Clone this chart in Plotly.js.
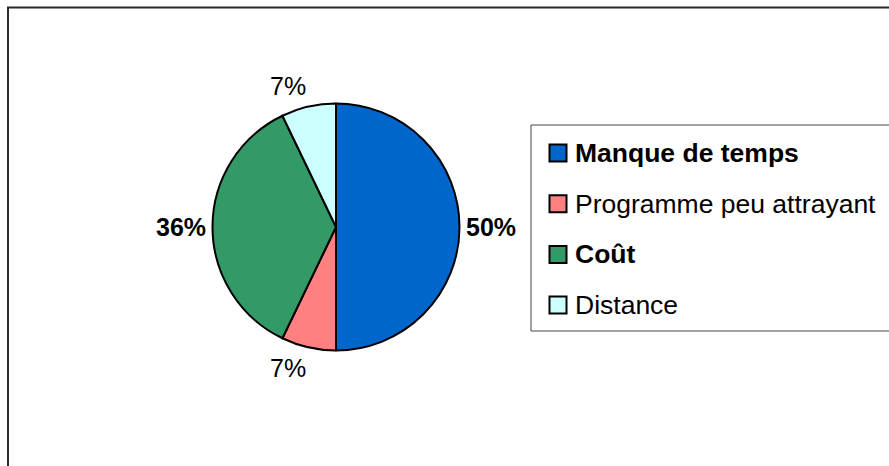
<!DOCTYPE html>
<html>
<head>
<meta charset="utf-8">
<script src="https://cdn.plot.ly/plotly-3.0.1.min.js"></script>
<style>
  html, body { margin: 0; padding: 0; background: #fff; }
  #chart { width: 889px; height: 466px; }
</style>
</head>
<body>
<div id="chart"></div>
<script>
// ---- data ----
const categories = ['Manque de temps', 'Programme peu attrayant', 'Coût', 'Distance'];
const counts = [7, 1, 5, 1];

// ---- styling ----
const colors = ['#0066CC', '#FF8080', '#339966', '#CCFFFF'];
const boldFlags = [true, false, true, false];
const FONT = 'Liberation Sans, Arial, Helvetica, sans-serif';
const W = 889, H = 466;
const cx = 336, cy = 227, R = 123.5;

const wrapBold = (s, b) => b ? '<b>' + s + '</b>' : s;

const trace = {
  type: 'pie',
  labels: categories,
  values: counts,
  sort: false,
  direction: 'clockwise',
  rotation: 0,
  marker: { colors: colors, line: { color: '#000', width: 2 } },
  textinfo: 'none',
  showlegend: false,
  hoverinfo: 'label+percent',
  domain: {
    x: [(cx - R) / W, (cx + R) / W],
    y: [(H - cy - R) / H, (H - cy + R) / H]
  }
};

// percentage labels placed just outside each slice (angles derived from the data)
const total = counts.reduce((a, b) => a + b, 0);
const annotations = [];
let cum = 0;
const gap = 6;
counts.forEach((v, i) => {
  const mid = (cum + v / 2) / total * 2 * Math.PI;
  cum += v;
  const s = Math.sin(mid), c = Math.cos(mid);
  const px = cx + (R + gap) * s, py = cy - (R + gap) * c;
  annotations.push({
    xref: 'paper', yref: 'paper', x: px / W, y: 1 - py / H,
    xanchor: s > 0.1 ? 'left' : (s < -0.1 ? 'right' : 'center'),
    yanchor: c > 0.1 ? 'bottom' : (c < -0.1 ? 'top' : 'middle'),
    showarrow: false, borderpad: 0,
    text: wrapBold(Math.round(v / total * 100) + '%', boldFlags[i]),
    font: { family: FONT, size: 25, color: '#000' }
  });
});

// legend (box, swatches, labels) built from the category arrays
const legX0 = 531, legY0 = 125, legY1 = 331;
const itemY0 = 153, itemStep = 50.7, sw = 17, swX = 549.5, txtX = 572.5;
const shapes = [
  { type: 'rect', xref: 'paper', yref: 'paper',
    x0: 8 / W, x1: 1.2, y0: -0.2, y1: 1 - 7.5 / H,
    line: { color: '#2a2a2a', width: 2 }, fillcolor: 'rgba(0,0,0,0)' },
  { type: 'rect', xref: 'paper', yref: 'paper',
    x0: legX0 / W, x1: 1.2, y0: 1 - legY1 / H, y1: 1 - legY0 / H,
    line: { color: '#444', width: 1 }, fillcolor: 'rgba(0,0,0,0)' }
];
categories.forEach((c, i) => {
  const yc = itemY0 + i * itemStep;
  shapes.push({ type: 'rect', xref: 'paper', yref: 'paper',
    x0: swX / W, x1: (swX + sw) / W,
    y0: 1 - (yc + sw / 2) / H, y1: 1 - (yc - sw / 2) / H,
    line: { color: '#000', width: 2 }, fillcolor: colors[i] });
  annotations.push({ xref: 'paper', yref: 'paper',
    x: txtX / W, y: 1 - yc / H, xanchor: 'left', yanchor: 'middle',
    showarrow: false, text: wrapBold(c, boldFlags[i]),
    font: { family: FONT, size: 26.5, color: '#000' } });
});

const layout = {
  width: W, height: H,
  margin: { l: 0, r: 0, t: 0, b: 0 },
  paper_bgcolor: '#fff',
  plot_bgcolor: '#fff',
  font: { family: FONT, color: '#000' },
  showlegend: false,
  shapes: shapes,
  annotations: annotations
};

Plotly.newPlot('chart', [trace], layout, { displayModeBar: false, staticPlot: true });
</script>
</body>
</html>
